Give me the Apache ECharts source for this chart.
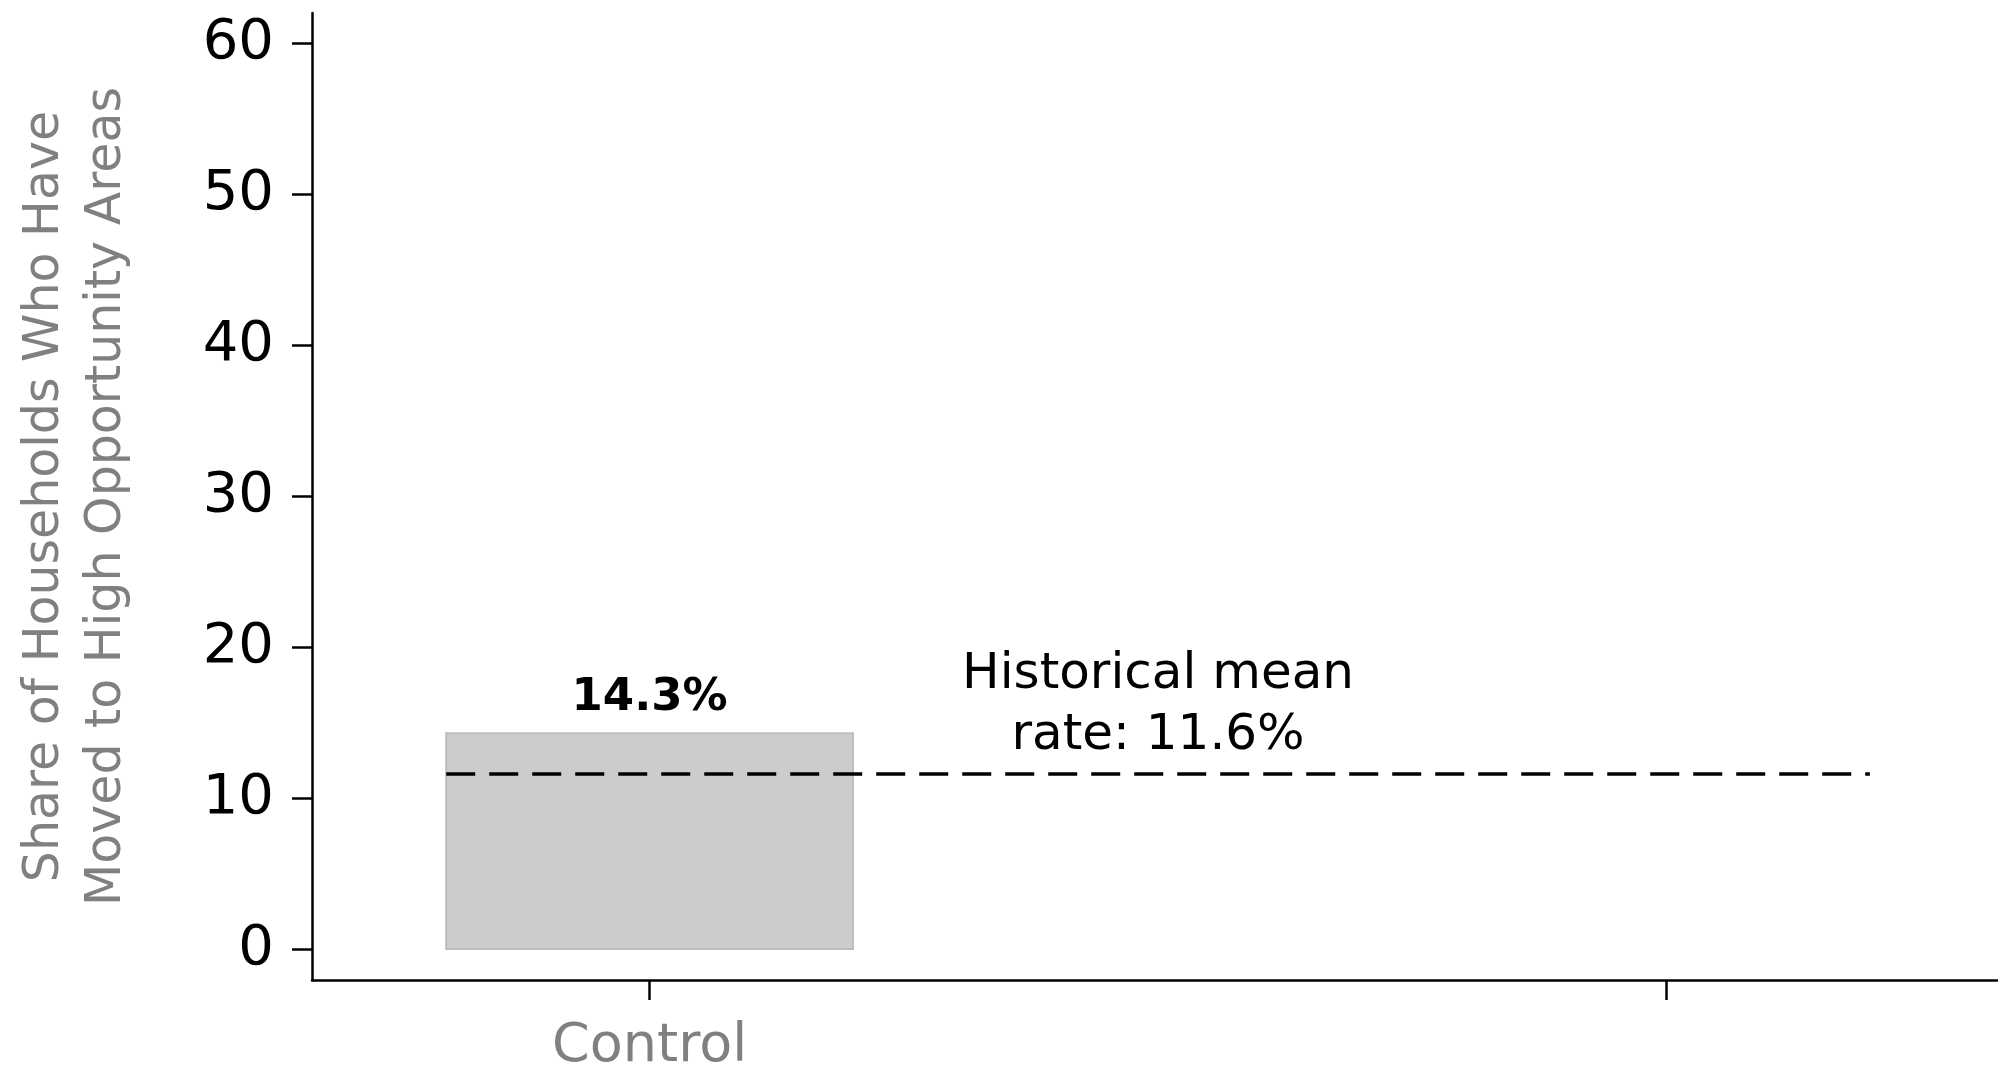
<!DOCTYPE html>
<html>
<head>
<meta charset="utf-8">
<script src="https://cdn.jsdelivr.net/npm/echarts@6/dist/echarts.min.js"></script>
<style>
html,body{margin:0;padding:0;background:#fff;}
#chart{width:1998px;height:1073px;}
</style>
</head>
<body>
<div id="chart"></div>
<script>
// ---- data ----
const categories = ["Control", ""];
const categoryPositions = [1, 2];
const barValues = [14.3];
const barLabels = ["14.3%"];
const historicalMean = 11.6;
const meanLineRange = [0.8, 2.2];
const meanLabel = "Historical mean\nrate: 11.6%";
const meanLabelPos = [1.5, 16.15];
const yTicks = [0, 10, 20, 30, 40, 50, 60];

const FONT = "DejaVu Sans";
const BAR_HALF = 0.2;

const chart = echarts.init(document.getElementById('chart'), null, {renderer: 'canvas'});

chart.setOption({
  animation: false,
  backgroundColor: '#ffffff',
  grid: {left: 312, right: 0, top: 13, bottom: 93, containLabel: false, outerBoundsMode: 'none'},
  xAxis: {
    type: 'value',
    min: 0.668, max: 2.326,
    splitLine: {show: false},
    axisLine: {show: true, onZero: false, lineStyle: {color: '#000', width: 2.5}},
    axisTick: {show: true, customValues: categoryPositions, length: 20, lineStyle: {color: '#000', width: 2.5}},
    axisLabel: {
      show: true, customValues: categoryPositions,
      formatter: v => categories[categoryPositions.indexOf(Math.round(v))] || '',
      color: '#808080', fontFamily: FONT, fontSize: 54, margin: 40
    }
  },
  yAxis: {
    type: 'value',
    min: -2.05, max: 62.03,
    splitLine: {show: false},
    axisLine: {show: true, onZero: false, lineStyle: {color: '#000', width: 2.5}},
    axisTick: {show: true, customValues: yTicks, length: 20, lineStyle: {color: '#000', width: 2.5}},
    axisLabel: {show: true, customValues: yTicks, color: '#000', fontFamily: FONT, fontSize: 56, margin: 38},
    name: 'Share of Households Who Have\nMoved to High Opportunity Areas',
    nameLocation: 'middle',
    nameRotate: 90,
    nameGap: 174,
    nameTextStyle: {color: '#808080', fontFamily: FONT, fontSize: 49, lineHeight: 62}
  },
  series: [
    {
      type: 'custom',
      data: categoryPositions.slice(0, barValues.length).map((p, i) => [p, barValues[i], barLabels[i]]),
      renderItem: function (params, api) {
        const x = api.value(0), y = api.value(1);
        const p0 = api.coord([x - BAR_HALF, y]);
        const p1 = api.coord([x + BAR_HALF, 0]);
        return {
          type: 'group',
          children: [
            {type: 'rect', shape: {x: p0[0], y: p0[1], width: p1[0] - p0[0], height: p1[1] - p0[1]},
             style: {fill: '#cccccc', stroke: '#bdbdbd', lineWidth: 2}},
            {type: 'text', style: {text: api.value(2), x: (p0[0] + p1[0]) / 2, y: p0[1] - 12,
             align: 'center', verticalAlign: 'bottom', fill: '#000', font: 'bold 45px ' + FONT}}
          ]
        };
      },
      z: 2
    },
    {
      type: 'line',
      data: meanLineRange.map(x => [x, historicalMean]),
      symbol: 'none',
      lineStyle: {color: '#000', width: 3.5, type: [29, 14]},
      z: 3
    },
    {
      type: 'custom',
      data: [[meanLabelPos[0], meanLabelPos[1], meanLabel]],
      renderItem: function (params, api) {
        const p = api.coord([api.value(0), api.value(1)]);
        return {type: 'text', style: {text: api.value(2), x: p[0], y: p[1], align: 'center', verticalAlign: 'middle',
                fill: '#000', fontFamily: FONT, fontSize: 50, lineHeight: 61}};
      },
      z: 4
    }
  ]
});
</script>
</body>
</html>
